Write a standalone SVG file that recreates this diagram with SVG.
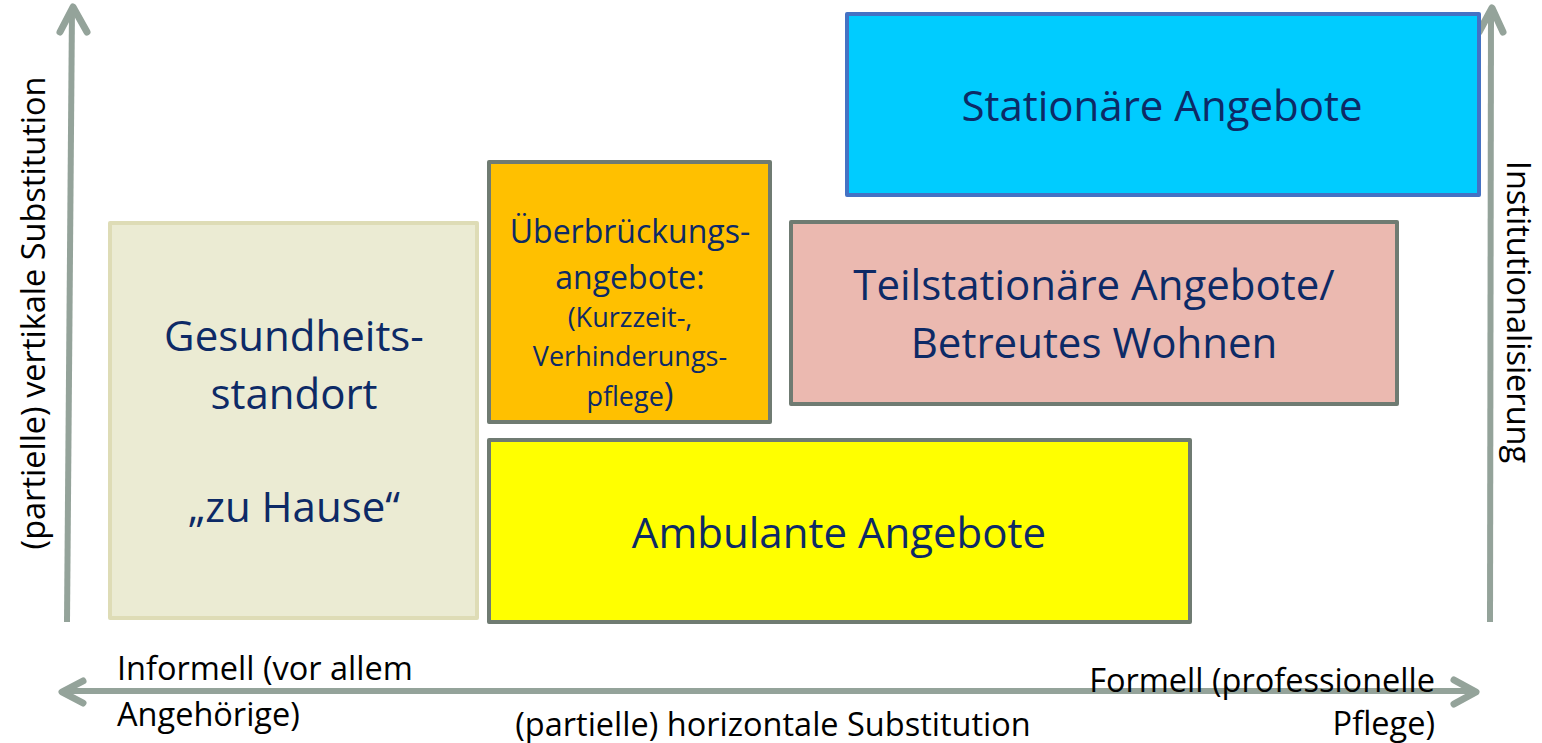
<svg xmlns="http://www.w3.org/2000/svg" width="1542" height="743" viewBox="0 0 1542 743">
  <style>
    .box { stroke-width: 4; stroke-linejoin: round; }
    .lbl { font-family: "Open Sans", "Liberation Sans", sans-serif; fill: #0d2a66; text-anchor: middle; }
    .axis { font-family: "Open Sans", "Liberation Sans", sans-serif; fill: #000; font-size: 32.5px; }
    .shaft { stroke: #94a39a; stroke-width: 6; fill: none; }
    .head { stroke: #94a39a; stroke-width: 7; fill: none; stroke-linecap: round; stroke-linejoin: round; }
  </style>
  <rect width="1542" height="743" fill="#fff"/>

  <g id="connectors">
    <!-- vertical axis, left -->
    <line class="shaft" x1="67" y1="622" x2="72" y2="8"/>
    <polyline class="head" points="60,32 73,7 87,32"/>
    <!-- vertical axis, right -->
    <line class="shaft" x1="1490" y1="622" x2="1491" y2="8"/>
    <polyline class="head" points="1479,32 1492,8 1503,32"/>
    <!-- horizontal axis -->
    <line class="shaft" x1="63" y1="691" x2="1475" y2="691"/>
    <polyline class="head" points="83,681 62,692 83,703"/>
    <polyline class="head" points="1454,680 1476,692 1454,704"/>
  </g>

  <g id="home">
    <rect class="box" x="110" y="223" width="367" height="395" fill="#ebebd3" stroke="#dedcb6"/>
    <text class="lbl" font-size="42" x="294" y="351">Gesundheits-</text>
    <text class="lbl" font-size="42" x="294" y="409">standort</text>
    <text class="lbl" font-size="42" x="294" y="522">„zu Hause“</text>
  </g>

  <g id="bridging">
    <rect class="box" x="489" y="162" width="281" height="260" fill="#ffc000" stroke="#6f7b72"/>
    <text class="lbl" font-size="32" x="630" y="243">Überbrückungs-</text>
    <text class="lbl" font-size="32" x="630" y="289">angebote:</text>
    <text class="lbl" font-size="27" x="630" y="327">(Kurzzeit-,</text>
    <text class="lbl" font-size="27" x="630" y="366">Verhinderungs-</text>
    <text class="lbl" font-size="27" x="630" y="406">pflege<tspan font-size="33">)</tspan></text>
  </g>

  <g id="ambulant">
    <rect class="box" x="489" y="440" width="701" height="182" fill="#ffff00" stroke="#6f7b72"/>
    <text class="lbl" font-size="42" x="839" y="548">Ambulante Angebote</text>
  </g>

  <g id="semi-inpatient">
    <rect class="box" x="791" y="222" width="606" height="182" fill="#ebb9b0" stroke="#6f7b72"/>
    <text class="lbl" font-size="42" x="1094" y="300">Teilstationäre Angebote/</text>
    <text class="lbl" font-size="42" x="1094" y="358">Betreutes Wohnen</text>
  </g>

  <g id="inpatient">
    <rect class="box" x="847" y="14" width="632" height="181" fill="#00ccff" stroke="#4472c4"/>
    <text class="lbl" font-size="42" x="1162" y="121">Stationäre Angebote</text>
  </g>

  <g id="axis-labels">
    <text class="axis" transform="translate(45,313) rotate(-90)" text-anchor="middle">(partielle) vertikale Substitution</text>
    <text class="axis" transform="translate(1507,312) rotate(90)" text-anchor="middle">Institutionalisierung</text>
    <text class="axis" x="117" y="680">Informell (vor allem</text>
    <text class="axis" x="117" y="726">Angehörige)</text>
    <text class="axis" x="1435" y="692" text-anchor="end">Formell (professionelle</text>
    <text class="axis" x="1435" y="735" text-anchor="end">Pflege)</text>
    <text class="axis" x="773" y="736" text-anchor="middle">(partielle) horizontale Substitution</text>
  </g>
</svg>
